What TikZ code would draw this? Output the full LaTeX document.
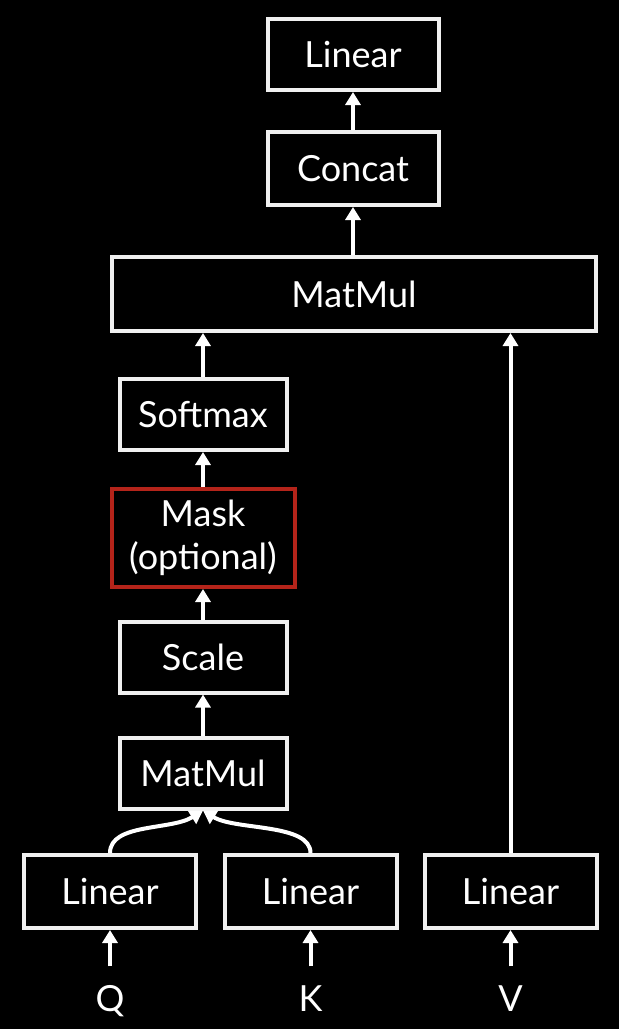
\documentclass[tikz,border=0pt]{standalone}
\usepackage{fontspec}
\setmainfont{Lato}
\usetikzlibrary{arrows.meta}
\usetikzlibrary{calc}

\begin{document}
\begin{tikzpicture}[x=1pt,y=-1pt,
    block/.style={
      draw=boxgray,
      line width=4pt,
      text=white,
      font=\fontsize{36}{43}\selectfont,
      inner sep=0pt,
      minimum width=167pt,
      minimum height=71pt,
      align=center
    },
    inlabel/.style={text=white,font=\fontsize{36}{43}\selectfont,text height=25pt,text depth=0pt,inner xsep=4pt,inner ysep=20pt},
    flow/.style={->,draw=white,line width=4pt,>={Triangle[length=13pt,width=15pt]}}]

\definecolor{boxgray}{RGB}{240,240,240}
\definecolor{maskred}{RGB}{180,36,26}

\fill[black] (0,0) rectangle (619,1029);
\useasboundingbox (0,0) rectangle (619,1029);

% output side
\node[block,minimum width=171pt] (lout) at (353,54.5) {Linear};
\node[block,minimum width=171pt,minimum height=73pt] (cat) at (353,168.5) {Concat};
\node[block,minimum width=484pt,minimum height=74pt] (mmtop) at (354,294) {MatMul};

% attention column
\node[block] (soft) at (203,414.5) {Softmax};
\node[block,draw=maskred,minimum width=183pt,minimum height=98pt] (mask) at (203,538) {Mask\\(optional)};
\node[block] (scale) at (203,657) {Scale};
\node[block] (mmlow) at (203,773) {MatMul};

% input projections
\node[block,minimum width=172pt,minimum height=73pt] (lq) at (110,891.5) {Linear};
\node[block,minimum width=172pt,minimum height=73pt] (lk) at (310.5,891.5) {Linear};
\node[block,minimum width=172pt,minimum height=73pt] (lv) at (510.5,891.5) {Linear};

\node[inlabel] (q) at (110,999) {Q};
\node[inlabel] (k) at (310.5,999) {K};
\node[inlabel] (v) at (510.5,999) {V};

\draw[flow] (q) -- (lq);
\draw[flow] (k) -- (lk);
\draw[flow] (v) -- (lv);

\draw[flow] (lq.north) .. controls +(0,-30) and +(-32,20) .. (mmlow.south);
\draw[flow] (lk.north) .. controls +(0,-30) and +(32,20) .. (mmlow.south);

\draw[flow] (mmlow) -- (scale);
\draw[flow] (scale) -- (mask);
\draw[flow] (mask) -- (soft);
\draw[flow] (soft) -- (soft |- mmtop.south);
\draw[flow] (lv) -- (lv |- mmtop.south);

\draw[flow] (cat |- mmtop.north) -- (cat);
\draw[flow] (cat) -- (lout);

\end{tikzpicture}
\end{document}
